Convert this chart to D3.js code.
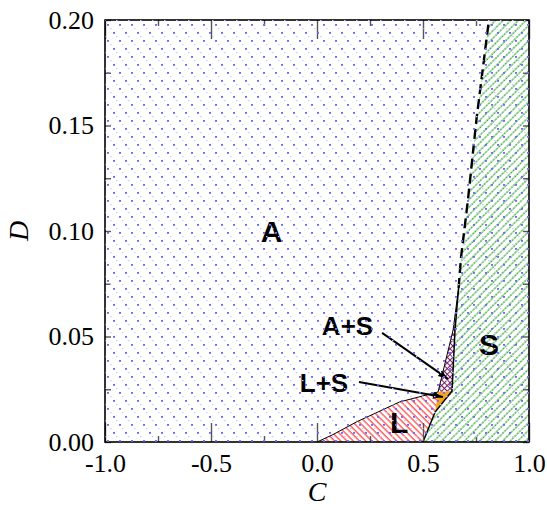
<!DOCTYPE html>
<html>
<head>
<meta charset="utf-8">
<script src="https://cdn.jsdelivr.net/npm/d3@7"></script>
<style>
  body { margin: 0; background: #fff; }
  .tick text { font-family: "Liberation Serif", "Times New Roman", serif; font-size: 26px; fill: #000; }
  .tick line { stroke: #555; stroke-width: 1.4; }
  .lbl { font-family: "Liberation Sans", Arial, sans-serif; font-weight: bold; fill: #000; }
  .title { font-family: "Liberation Serif", "Times New Roman", serif; font-style: italic; font-size: 28px; }
</style>
</head>
<body>
<svg id="chart" width="547" height="510"></svg>
<script>
// axis ticks
var xMajor = [-1.0, -0.5, 0.0, 0.5, 1.0];
var xMinor = [-0.75, -0.25, 0.25, 0.75];
var yMajor = [0.00, 0.05, 0.10, 0.15, 0.20];
var yMinor = [0.025, 0.075, 0.125, 0.175];

// phase boundaries, points are [C, D]
var boundaryAL = [[0, 0], [0.075, 0.0035], [0.19, 0.0097], [0.39, 0.019], [0.571, 0.0237]];
var boundaryLS = [[0.5, 0], [0.557, 0.0142], [0.637, 0.0242], [0.651, 0.0531], [0.668, 0.073]];
var boundaryAS = [[0.571, 0.0237], [0.642, 0.0531], [0.668, 0.073]];
var boundaryDashed = [[0.668, 0.073], [0.679, 0.0872], [0.712, 0.1147], [0.753, 0.1536], [0.811, 0.2]];

// phase regions
var regionL = boundaryAL.concat([[0.557, 0.0142], [0.5, 0]]);
var regionLS = [[0.571, 0.0237], [0.637, 0.0242], [0.557, 0.0142]];
var regionAS = boundaryAS.concat([[0.651, 0.0531], [0.637, 0.0242]]);
var regionS = boundaryLS.concat(boundaryDashed.slice(1), [[1, 0.2], [1, 0]]);

// labels and arrows
var phaseNames = ['A', 'L', 'S', 'A+S', 'L+S'];
var phaseAt = [[-0.214, 0.0949], [0.387, 0.0043], [0.811, 0.0412], [0.144, 0.0507], [0.033, 0.0238]];
var arrowFrom = [[0.307, 0.0517], [0.198, 0.0284]];
var arrowTo = [[0.618, 0.0299], [0.594, 0.0213]];

var margin = {top: 20, right: 18, bottom: 68, left: 105},
	width = 547 - margin.left - margin.right,
	height = 510 - margin.top - margin.bottom;

var svg = d3.select('#chart');
var defs = svg.append('defs');

// A: blue dots
var pA = defs.append('pattern').attr('id', 'pA').attr('patternUnits', 'userSpaceOnUse')
	.attr('width', 12).attr('height', 16).attr('x', margin.left + 2).attr('y', margin.top + 4);
[[0, 0], [6, 8]].forEach(function (p) {
	pA.append('rect').attr('x', p[0]).attr('y', p[1]).attr('width', 2).attr('height', 1.8).attr('fill', '#6c6cff');
});
[[3, 4], [9, 12]].forEach(function (p) {
	pA.append('rect').attr('x', p[0]).attr('y', p[1]).attr('width', 1.5).attr('height', 1.2).attr('fill', '#c8c8ff');
});

// L: red hatch "\"
var pL = defs.append('pattern').attr('id', 'pL').attr('patternUnits', 'userSpaceOnUse')
	.attr('width', 4.4).attr('height', 10).attr('patternTransform', 'rotate(-45)');
pL.append('line').attr('x1', 1).attr('y1', 0).attr('x2', 1).attr('y2', 10)
	.attr('stroke', '#ff2a2a').attr('stroke-width', 1.1);

// S: green hatch "/"
var pS = defs.append('pattern').attr('id', 'pS').attr('patternUnits', 'userSpaceOnUse')
	.attr('width', 5.4).attr('height', 10).attr('patternTransform', 'rotate(45)');
pS.append('line').attr('x1', 1).attr('y1', 0).attr('x2', 1).attr('y2', 10)
	.attr('stroke', '#7cc87c').attr('stroke-width', 1);
pS.append('line').attr('x1', 1).attr('y1', 0).attr('x2', 1).attr('y2', 10)
	.attr('stroke', '#0a8a0a').attr('stroke-width', 1).attr('stroke-dasharray', '1,2.5');

// A+S: purple cross hatch
var pAS = defs.append('pattern').attr('id', 'pAS').attr('patternUnits', 'userSpaceOnUse')
	.attr('width', 4).attr('height', 4).attr('patternTransform', 'rotate(45)');
pAS.append('rect').attr('width', 4).attr('height', 4).attr('fill', '#fff');
pAS.append('line').attr('x1', 0.5).attr('y1', 0).attr('x2', 0.5).attr('y2', 4).attr('stroke', '#7a1a66').attr('stroke-width', 1);
pAS.append('line').attr('x1', 0).attr('y1', 0.5).attr('x2', 4).attr('y2', 0.5).attr('stroke', '#7a1a66').attr('stroke-width', 1);

var g = svg.append('g').attr('transform', 'translate(' + margin.left + ',' + margin.top + ')');

var x = d3.scaleLinear().domain([-1, 1]).range([0, width]);
var y = d3.scaleLinear().domain([0, 0.2]).range([height, 0]);

var line = d3.line().x(function (d) { return x(d[0]); }).y(function (d) { return y(d[1]); });
var area = function (pts) { return line(pts) + 'Z'; };

// background A phase
svg.append('rect').attr('x', margin.left).attr('y', margin.top).attr('width', width).attr('height', height)
	.attr('fill', 'url(#pA)');

g.append('path').attr('d', area(regionL)).attr('fill', '#fff');
g.append('path').attr('d', area(regionL)).attr('fill', 'url(#pL)');
g.append('path').attr('d', area(regionS)).attr('fill', '#fff');
g.append('path').attr('d', area(regionS)).attr('fill', 'url(#pS)');
g.append('path').attr('d', area(regionAS)).attr('fill', 'url(#pAS)');
g.append('path').attr('d', area(regionLS)).attr('fill', '#f5a422');

// boundaries
g.append('path').attr('d', line(boundaryAL)).attr('fill', 'none').attr('stroke', '#000').attr('stroke-width', 1);
g.append('path').attr('d', line(boundaryAS)).attr('fill', 'none').attr('stroke', '#000').attr('stroke-width', 1);
g.append('path').attr('d', line(boundaryLS)).attr('fill', 'none').attr('stroke', '#000').attr('stroke-width', 1.5);
g.append('path').attr('d', line(boundaryDashed)).attr('fill', 'none').attr('stroke', '#000')
	.attr('stroke-width', 2.4).attr('stroke-dasharray', '10,5');

// axes, ticks pointing inward
function fmt(n) { return function (d) { return d.toFixed(n); }; }
g.append('g').attr('transform', 'translate(0,' + height + ')')
	.call(d3.axisBottom(x).tickValues(xMajor).tickSize(-19).tickPadding(11.5).tickFormat(fmt(1)));
g.append('g').attr('transform', 'translate(0,' + height + ')')
	.call(d3.axisBottom(x).tickValues(xMinor).tickSize(-6).tickFormat(''));
g.append('g').call(d3.axisTop(x).tickValues(xMajor).tickSize(-19).tickFormat(''));
g.append('g').call(d3.axisTop(x).tickValues(xMinor).tickSize(-6).tickFormat(''));
g.append('g')
	.call(d3.axisLeft(y).tickValues(yMajor).tickSize(-6).tickPadding(11).tickFormat(fmt(2)));
g.append('g').call(d3.axisLeft(y).tickValues(yMinor).tickSize(-6).tickFormat(''));
g.append('g').attr('transform', 'translate(' + width + ',0)')
	.call(d3.axisRight(y).tickValues(yMajor.concat(yMinor)).tickSize(-6).tickFormat(''));
g.selectAll('.domain').remove();

// frame
g.append('rect').attr('width', width).attr('height', height)
	.attr('fill', 'none').attr('stroke', '#000').attr('stroke-width', 1.6);

// arrows
defs.append('marker').attr('id', 'arrow').attr('viewBox', '0 0 10 10').attr('refX', 10).attr('refY', 5)
	.attr('markerWidth', 5).attr('markerHeight', 5).attr('orient', 'auto').attr('markerUnits', 'strokeWidth')
	.append('path').attr('d', 'M0,1.5L10,5L0,8.5Z').attr('fill', '#000');
arrowFrom.forEach(function (p, i) {
	g.append('line')
		.attr('x1', x(p[0])).attr('y1', y(p[1]))
		.attr('x2', x(arrowTo[i][0])).attr('y2', y(arrowTo[i][1]))
		.attr('stroke', '#000').attr('stroke-width', 2).attr('marker-end', 'url(#arrow)');
});

// phase labels
phaseNames.forEach(function (name, i) {
	g.append('text').attr('class', 'lbl')
		.attr('x', x(phaseAt[i][0])).attr('y', y(phaseAt[i][1]))
		.attr('text-anchor', 'middle')
		.style('font-size', name.length > 1 ? '26px' : '30px')
		.text(name);
});

// axis titles
svg.append('text').attr('class', 'title').attr('x', margin.left + width / 2).attr('y', 501)
	.attr('text-anchor', 'middle').text('C');
svg.append('text').attr('class', 'title')
	.attr('transform', 'translate(28,' + (margin.top + y(0.1)) + ') rotate(-90)')
	.attr('text-anchor', 'middle').text('D');
</script>
</body>
</html>
